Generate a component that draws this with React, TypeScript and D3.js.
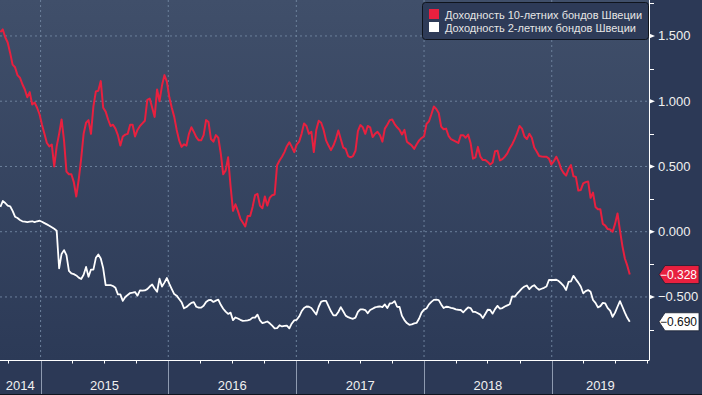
import React from 'react'
import * as d3 from 'd3'

// weekly observations, first one on this Monday
const START = '2014-09-08'

// Доходность 10-летних бондов Швеции, %
const yield10 = [
  1.53, 1.55, 1.49, 1.45, 1.37, 1.28, 1.26, 1.2, 1.18, 1.13,
  1.09, 1.03, 1.07, 0.975, 0.99, 0.95, 0.9, 0.82, 0.75, 0.68,
  0.654, 0.667, 0.5, 0.654, 0.75, 0.86, 0.7, 0.46, 0.44, 0.44,
  0.38, 0.27, 0.4, 0.56, 0.75, 0.835, 0.855, 0.75, 0.96, 1.075,
  1.08, 1.154, 0.95, 0.92, 0.86, 0.81, 0.82, 0.79, 0.74, 0.66,
  0.73, 0.744, 0.75, 0.82, 0.82, 0.73, 0.78, 0.81, 0.83, 0.85,
  1.01, 1.02, 0.95, 0.88, 1.09, 1.0, 1.12, 1.2, 1.15, 1.03,
  0.95, 0.88, 0.78, 0.7, 0.65, 0.67, 0.66, 0.75, 0.8, 0.765,
  0.725, 0.7, 0.7, 0.74, 0.855, 0.84, 0.71, 0.69, 0.74, 0.72,
  0.6, 0.44, 0.47, 0.57, 0.35, 0.16, 0.21, 0.16, 0.1, 0.07,
  0.04, 0.12, 0.12, 0.19, 0.28, 0.29, 0.2, 0.18, 0.27, 0.2,
  0.26, 0.28, 0.285, 0.51, 0.545, 0.575, 0.61, 0.655, 0.685, 0.65,
  0.61, 0.667, 0.69, 0.75, 0.83, 0.81, 0.75, 0.765, 0.61, 0.78,
  0.85, 0.835, 0.78, 0.7, 0.66, 0.625, 0.66, 0.71, 0.775, 0.71,
  0.645, 0.634, 0.58, 0.57, 0.58, 0.62, 0.77, 0.817, 0.8, 0.75,
  0.81, 0.8, 0.725, 0.75, 0.765, 0.74, 0.69, 0.79, 0.82, 0.855,
  0.86, 0.825, 0.8, 0.78, 0.745, 0.78, 0.69, 0.675, 0.66, 0.635,
  0.67, 0.7, 0.718, 0.73, 0.825, 0.845, 0.9, 0.96, 0.94, 0.91,
  0.805, 0.785, 0.79, 0.735, 0.71, 0.7, 0.69, 0.68, 0.74, 0.74,
  0.72, 0.744, 0.68, 0.56, 0.57, 0.65, 0.575, 0.549, 0.549, 0.535,
  0.515, 0.531, 0.616, 0.62, 0.546, 0.556, 0.575, 0.6, 0.64, 0.67,
  0.71, 0.755, 0.81, 0.79, 0.73, 0.71, 0.75, 0.72, 0.645, 0.615,
  0.58, 0.577, 0.575, 0.575, 0.56, 0.515, 0.54, 0.575, 0.535, 0.48,
  0.45, 0.43, 0.48, 0.51, 0.425, 0.42, 0.315, 0.32, 0.37, 0.38,
  0.385, 0.26, 0.3, 0.19, 0.172, 0.172, 0.06, 0.047, 0.02, 0.017,
  0.0, 0.06, 0.14, 0.01, -0.11, -0.205, -0.26, -0.328
]

// Доходность 2-летних бондов Швеции, %
const yield2 = [
  0.19, 0.235, 0.22, 0.2, 0.195, 0.16, 0.115, 0.105, 0.09, 0.08,
  0.077, 0.074, 0.078, 0.08, 0.073, 0.08, 0.084, 0.076, 0.066, 0.056,
  0.046, 0.034, 0.022, 0.008, -0.28, -0.17, -0.141, -0.18, -0.3, -0.32,
  -0.325, -0.335, -0.352, -0.362, -0.33, -0.27, -0.345, -0.29, -0.29, -0.2,
  -0.175, -0.205, -0.28, -0.41, -0.41, -0.41, -0.416, -0.43, -0.48, -0.48,
  -0.53, -0.5, -0.485, -0.47, -0.467, -0.462, -0.49, -0.45, -0.452, -0.45,
  -0.44, -0.42, -0.405, -0.435, -0.46, -0.36, -0.42, -0.39, -0.355, -0.4,
  -0.44, -0.478, -0.49, -0.515, -0.54, -0.587, -0.577, -0.56, -0.545, -0.54,
  -0.575, -0.582, -0.582, -0.567, -0.538, -0.525, -0.523, -0.538, -0.528, -0.52,
  -0.56, -0.59, -0.612, -0.63, -0.62, -0.678, -0.657, -0.665, -0.675, -0.683,
  -0.682, -0.679, -0.674, -0.658, -0.658, -0.635, -0.68, -0.7, -0.695, -0.688,
  -0.702, -0.72, -0.74, -0.738, -0.717, -0.726, -0.722, -0.72, -0.74, -0.703,
  -0.679, -0.675, -0.65, -0.61, -0.584, -0.573, -0.575, -0.585, -0.61, -0.635,
  -0.575, -0.535, -0.53, -0.53, -0.57, -0.61, -0.641, -0.641, -0.615, -0.578,
  -0.61, -0.643, -0.655, -0.662, -0.667, -0.658, -0.615, -0.595, -0.595, -0.6,
  -0.625, -0.6, -0.59, -0.58, -0.575, -0.573, -0.577, -0.557, -0.585, -0.55,
  -0.547, -0.532, -0.575, -0.577, -0.645, -0.677, -0.7, -0.713, -0.71, -0.702,
  -0.698, -0.665, -0.62, -0.597, -0.588, -0.557, -0.538, -0.522, -0.52, -0.524,
  -0.557, -0.585, -0.575, -0.577, -0.583, -0.587, -0.595, -0.598, -0.6, -0.618,
  -0.598, -0.58, -0.585, -0.615, -0.615, -0.625, -0.635, -0.662, -0.63, -0.598,
  -0.6, -0.628, -0.593, -0.568, -0.59, -0.585, -0.573, -0.564, -0.556, -0.495,
  -0.498, -0.475, -0.455, -0.434, -0.42, -0.412, -0.44, -0.42, -0.41, -0.43,
  -0.445, -0.437, -0.43, -0.42, -0.37, -0.37, -0.37, -0.368, -0.378, -0.395,
  -0.415, -0.447, -0.385, -0.38, -0.338, -0.365, -0.39, -0.42, -0.472, -0.455,
  -0.447, -0.46, -0.523, -0.545, -0.58, -0.57, -0.545, -0.55, -0.585, -0.605,
  -0.652, -0.62, -0.575, -0.532, -0.575, -0.62, -0.66, -0.69
]

const yearLabels = ['2014', '2015', '2016', '2017', '2018', '2019']
const yTicks = [1.5, 1.0, 0.5, 0.0, -0.5]
const legendLabels = [
  'Доходность 10-летних бондов Швеции',
  'Доходность 2-летних бондов Швеции'
]
const seriesColors = ['#e8203f', '#ffffff']

const W = 702
const H = 395
const plotW = 649
const plotH = 360
const font = "'Liberation Sans', Arial, sans-serif"

const App = () => {
  const start = d3.timeParse('%Y-%m-%d')(START) as Date
  const dates = yield10.map((_, i) => d3.timeDay.offset(start, 7 * i))

  const x = d3
    .scaleTime()
    .domain([new Date(2014, 8, 7), new Date(2019, 9, 6)])
    .range([0, plotW])
  const y = d3.scaleLinear().domain([-0.983, 1.7755]).range([plotH, 0])

  const line = d3
    .line<number>()
    .x((_, i) => x(dates[i]))
    .y(d => y(d))

  const [d0, d1] = x.domain()
  const yearStarts = d3.timeYear.range(d0, d1)
  const quarters = d3.timeMonth.every(3)!.range(d0, d1)
  const minorTicks = d3.range(-0.75, 1.76, 0.25).filter(v => !yTicks.includes(v))

  const fmt = d3.format('.3f')

  // flag with the last value, pointing at the axis
  const endFlag = (value: number, fill: string, textFill: string) => {
    const cy = y(value)
    const pts = [
      [659, cy],
      [665, cy - 9],
      [699, cy - 9],
      [699, cy + 9],
      [665, cy + 9]
    ]
    return (
      <g key={'flag' + value}>
        <polygon
          points={pts.map(p => p.join(',')).join(' ')}
          fill={fill}
          stroke="#1a2233"
          strokeWidth={0.8}
        />
        <text
          x={697}
          y={cy + 4.3}
          fill={textFill}
          fontSize={12}
          textAnchor="end"
        >
          {fmt(value)}
        </text>
      </g>
    )
  }

  return (
    <div style={{ position: 'absolute', left: 0, top: 0 }}>
      <svg width={W} height={H} style={{ display: 'block', fontFamily: font }}>
        <defs>
          <linearGradient id="bg" x1="0" y1="0" x2="0" y2="1">
            <stop offset="0%" stopColor="#404f6a" />
            <stop offset="100%" stopColor="#2c3a57" />
          </linearGradient>
          <clipPath id="plot">
            <rect x={0} y={0} width={plotW} height={plotH} />
          </clipPath>
        </defs>

        <rect width={W} height={H} fill="#2c3956" />
        <rect width={plotW} height={plotH} fill="url(#bg)" />

        {/* grid */}
        {yTicks.map(t => (
          <line
            key={'gy' + t}
            x1={0}
            x2={plotW}
            y1={y(t)}
            y2={y(t)}
            stroke="#6d819c"
            strokeDasharray="2,3"
            strokeWidth={1}
          />
        ))}
        {yearStarts.map(d => (
          <line
            key={'gx' + d.getFullYear()}
            x1={x(d)}
            x2={x(d)}
            y1={0}
            y2={plotH}
            stroke="#6d819c"
            strokeDasharray="2,3"
            strokeWidth={1}
          />
        ))}

        {/* series */}
        <g clipPath="url(#plot)" fill="none" strokeLinejoin="round">
          <path d={line(yield2) || ''} stroke={seriesColors[1]} strokeWidth={1.8} />
          <path d={line(yield10) || ''} stroke={seriesColors[0]} strokeWidth={2} />
        </g>

        {/* bottom axis */}
        <line x1={0} x2={plotW + 0.5} y1={plotH + 0.5} y2={plotH + 0.5} stroke="#fff" />
        {quarters.map(d => (
          <line
            key={'q' + +d}
            x1={Math.round(x(d)) + 0.5}
            x2={Math.round(x(d)) + 0.5}
            y1={plotH}
            y2={plotH + 3.5}
            stroke="#fff"
          />
        ))}
        {yearStarts.map(d => (
          <line
            key={'ys' + d.getFullYear()}
            x1={Math.round(x(d)) + 0.5}
            x2={Math.round(x(d)) + 0.5}
            y1={plotH + 1}
            y2={H}
            stroke="#8e9ab0"
          />
        ))}
        {yearLabels.map(lbl => {
          const a = Math.max(0, x(new Date(+lbl, 0, 1)))
          const b = Math.min(plotW, x(new Date(+lbl + 1, 0, 1)))
          return (
            <text
              key={lbl}
              x={(a + b) / 2}
              y={390}
              fill="#f0f0f0"
              fontSize={13}
              textAnchor="middle"
            >
              {lbl}
            </text>
          )
        })}
        <line x1={0} x2={W} y1={H - 0.5} y2={H - 0.5} stroke="#10151f" />

        {/* right axis */}
        <line x1={plotW + 0.5} x2={plotW + 0.5} y1={0} y2={plotH} stroke="#fff" />
        {minorTicks.map(t => (
          <line
            key={'mt' + t}
            x1={plotW}
            x2={plotW + 5}
            y1={Math.round(y(t)) + 0.5}
            y2={Math.round(y(t)) + 0.5}
            stroke="#fff"
          />
        ))}
        {yTicks.map(t => (
          <g key={'yt' + t}>
            <polygon
              points={`${plotW},${y(t) - 2.5} ${plotW + 6},${y(t)} ${plotW},${y(t) + 2.5}`}
              fill="#fff"
            />
            <text x={658} y={y(t) + 4.5} fill="#f0f0f0" fontSize={13}>
              {fmt(t)}
            </text>
          </g>
        ))}

        {/* last values */}
        {endFlag(yield10[yield10.length - 1], seriesColors[0], '#fff')}
        {endFlag(yield2[yield2.length - 1], seriesColors[1], '#111')}

        {/* legend */}
        <rect
          x={422.5}
          y={2.5}
          width={226}
          height={37}
          rx={3}
          fill="#2e3b58"
          stroke="#0f141d"
        />
        {legendLabels.map((lbl, i) => (
          <g key={lbl}>
            <rect x={429} y={9 + i * 13} width={10} height={10} fill={seriesColors[i]} />
            <text x={445} y={18.5 + i * 13} fill="#e6e6e6" fontSize={11}>
              {lbl}
            </text>
          </g>
        ))}
      </svg>
    </div>
  )
}

export default App
